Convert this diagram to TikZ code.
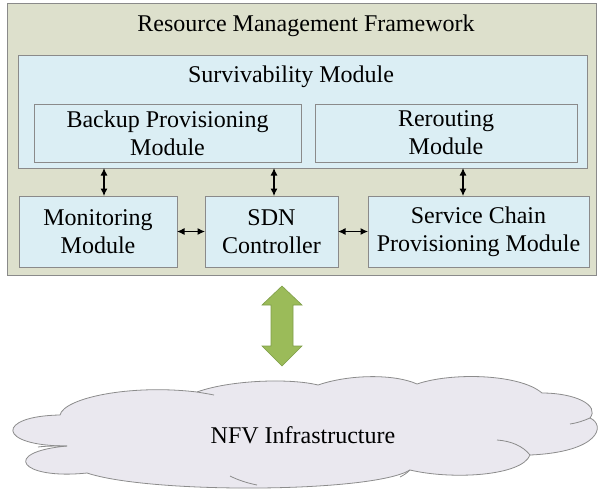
\documentclass[tikz,border=0pt]{standalone}
\usepackage{fontspec}
\setmainfont{Liberation Serif}
\usetikzlibrary{arrows.meta}
\definecolor{outerfill}{HTML}{DDE0CC}
\definecolor{bluefill}{HTML}{DBEEF4}
\definecolor{boxline}{HTML}{8A8A8A}
\definecolor{arrowgreen}{HTML}{9BBB59}
\definecolor{arrowgreenline}{HTML}{7F9E4A}
\definecolor{cloudfill}{HTML}{EAE8EF}
\definecolor{cloudline}{HTML}{8C8C8C}
\begin{document}
\begin{tikzpicture}[x=1pt,y=-1pt,
  txt/.style={font=\fontsize{24}{28}\selectfont, align=center, inner sep=0pt},
  panel/.style={txt, draw=boxline, line width=0.8pt, fill=bluefill, outer sep=0pt},
  link/.style={{Latex[length=7.5pt,width=7pt]}-{Latex[length=7.5pt,width=7pt]}, line width=1.1pt}]
\useasboundingbox (0,0) rectangle (599,488);
% outer framework
\node[draw=boxline, line width=0.8pt, fill=outerfill, minimum width=589pt, minimum height=272pt, inner sep=0pt, outer sep=0pt] (frame) at (301.5,139) {};
\node[txt] (frametitle) at (306,26) {Resource Management Framework};
% survivability module
\node[panel, minimum width=569pt, minimum height=113pt] (surv) at (302.5,111.5) {};
\node[txt] (survtitle) at (291,77) {Survivability Module};
\node[panel, minimum width=267pt, minimum height=58pt] (backup) at (167.5,133) {Backup Provisioning\\Module};
\node[panel, minimum width=262pt, minimum height=58pt] (reroute) at (446,133) {Rerouting\\Module};
% lower modules
\node[panel, minimum width=158pt, minimum height=71pt] (monitor) at (98,231.5) {Monitoring\\Module};
\node[panel, minimum width=133pt, minimum height=71pt] (sdn) at (271.5,231.5) {SDN\\Controller};
\node[panel, minimum width=221pt, minimum height=71pt] (chain) at (478.5,231.5) {Service Chain\\Provisioning Module};
% connectors
\coordinate (cx1) at (104,0);
\coordinate (cx2) at (274,0);
\coordinate (cx3) at (463,0);
\draw[link] (surv.south -| cx1) -- (monitor.north -| cx1);
\draw[link] (surv.south -| cx2) -- (sdn.north -| cx2);
\draw[link] (surv.south -| cx3) -- (chain.north -| cx3);
\draw[link] (monitor.east) -- (sdn.west);
\draw[link] (sdn.east) -- (chain.west);
% big green double arrow
\draw[fill=arrowgreen, draw=arrowgreenline, line width=0.6pt, line join=miter]
  (282,286) -- (302,305) -- (293,305) -- (293,346) -- (302,346) -- (282,366)
  -- (262,346) -- (271,346) -- (271,305) -- (262,305) -- cycle;
% cloud
\draw[fill=cloudfill, draw=cloudline, line width=0.8pt]
  (60,415) .. controls (64,398) and (130,384) .. (197,392)
  .. controls (230,380) and (290,378) .. (318,385)
  .. controls (350,374) and (395,374) .. (417,384)
  .. controls (452,372) and (520,374) .. (542,393)
  .. controls (575,393) and (600,405) .. (590,418)
  .. controls (606,425) and (600,452) .. (530,455)
  .. controls (522,476) and (452,480) .. (410,470)
  .. controls (372,493) and (150,494) .. (87,473)
  .. controls (20,480) and (0,452) .. (67,446)
  .. controls (-4,446) and (-4,416) .. (60,415) -- cycle;
\draw[cloudline, line width=0.8pt] (590,418) .. controls (583,421) and (577,423) .. (570,424);
\draw[cloudline, line width=0.8pt] (530,455) .. controls (523,446) and (511,441) .. (497,440);
\draw[cloudline, line width=0.8pt] (410,470) .. controls (407,473) and (404,475) .. (400,477);
\draw[cloudline, line width=0.8pt] (230,476) .. controls (238,480) and (247,483) .. (257,485);
\draw[cloudline, line width=0.8pt] (197,392) .. controls (203,393) and (209,394) .. (214,395);
\draw[cloudline, line width=0.8pt] (67,446) .. controls (55,446) and (45,446) .. (38,447);
\node[txt] (nfv) at (303,435) {NFV Infrastructure};
\end{tikzpicture}
\end{document}
